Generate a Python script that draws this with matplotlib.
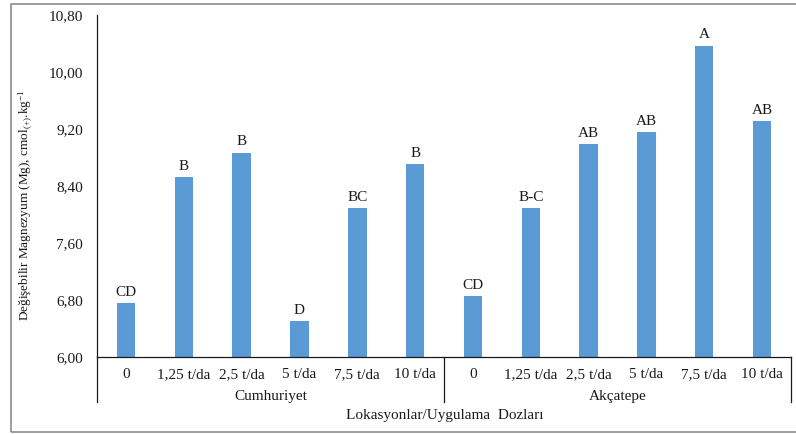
import matplotlib
matplotlib.use("Agg")
import matplotlib.pyplot as plt
from matplotlib.lines import Line2D
from matplotlib.patches import Rectangle

plt.rcParams['font.family'] = ['Liberation Serif', 'DejaVu Serif']
plt.rcParams['mathtext.fontset'] = 'custom'
plt.rcParams['mathtext.rm'] = 'Liberation Serif'
plt.rcParams['mathtext.it'] = 'Liberation Serif:italic'
plt.rcParams['mathtext.default'] = 'rm'

# Exchangeable Mg by location and application dose
locations = ["Cumhuriyet", "Akçatepe"]
doses = ["0", "1,25 t/da", "2,5 t/da", "5 t/da", "7,5 t/da", "10 t/da"]
cumhuriyet_mg = [6.76, 8.52, 8.87, 6.51, 8.09, 8.71]
akcatepe_mg = [6.85, 8.09, 8.99, 9.16, 10.37, 9.31]
cumhuriyet_letters = ["CD", "B", "B", "D", "BC", "B"]
akcatepe_letters = ["CD", "B-C", "AB", "AB", "A", "AB"]
y_ticks = [6.00, 6.80, 7.60, 8.40, 9.20, 10.00, 10.80]

values = cumhuriyet_mg + akcatepe_mg
letters = cumhuriyet_letters + akcatepe_letters
labels = doses + doses
n = len(values)
x = list(range(n))

ink = "#1a1a1a"
fig = plt.figure(figsize=(7.96, 4.34), dpi=100)
ax = fig.add_axes([0.1219, 0.1774, 0.8718, 0.788])

ax.bar(x, [v - y_ticks[0] for v in values], bottom=y_ticks[0],
       width=0.32, color="#5B9BD5", edgecolor="none")

for xi, v, lab in zip(x, values, letters):
    ax.annotate(lab, (xi, v), xytext=(0, 3), textcoords="offset points",
                ha="center", va="bottom", fontsize=11, color=ink)

ax.set_xlim(-0.5, n - 0.5)
ax.set_ylim(y_ticks[0], y_ticks[-1])
ax.set_yticks(y_ticks)
ax.set_yticklabels([f"{t:.2f}".replace(".", ",") for t in y_ticks], fontsize=11)
ax.set_xticks(x)
ax.set_xticklabels(labels, fontsize=11)
ax.tick_params(axis="both", length=0, colors=ink)
ax.tick_params(axis="y", pad=10)
ax.tick_params(axis="x", pad=8)

for s in ["top", "right"]:
    ax.spines[s].set_visible(False)
for s in ["left", "bottom"]:
    ax.spines[s].set_color(ink)
    ax.spines[s].set_linewidth(0.9)

# group separators extending below the axis
drop = -0.1316
for xf in [0.0, 0.5, 1.0]:
    ax.add_line(Line2D([xf, xf], [0, drop], transform=ax.transAxes,
                       color=ink, lw=0.9, clip_on=False))

# location names under the dose labels
for i, loc in enumerate(locations):
    ax.text(0.25 + 0.5 * i, -0.115, loc, transform=ax.transAxes,
            ha="center", va="center", fontsize=11, color=ink)

ax.text(0.501, -0.172, "Lokasyonlar/Uygulama  Dozları", transform=ax.transAxes,
        ha="center", va="center", fontsize=11, color=ink)

fig.text(0.031, 0.528,
         r"Değişebilir Magnezyum (Mg), cmol$_{(+)}$.kg$^{-1}$",
         rotation=90, ha="center", va="center", fontsize=9.5, color=ink)

# outer frame
fig.add_artist(Rectangle((10.5 / 796, 1 - 432 / 434), 1.2, (432 - 3.5) / 434,
                         transform=fig.transFigure, fill=False,
                         edgecolor="#8c8c8c", lw=1.2, clip_on=False))

fig.savefig("out.png", dpi=100)
